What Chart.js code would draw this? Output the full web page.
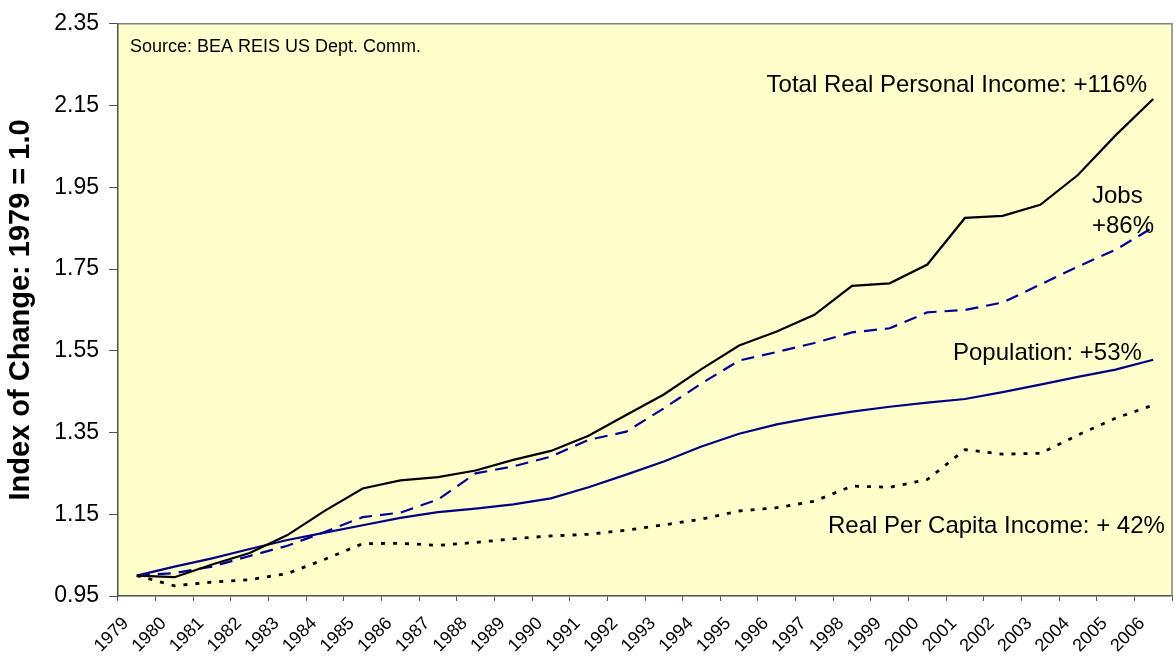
<!DOCTYPE html>
<html>
<head>
<meta charset="utf-8">
<script src="https://cdn.jsdelivr.net/npm/chart.js@4.4.1/dist/chart.umd.min.js"></script>
<style>
  html, body { margin: 0; padding: 0; background: #fff; }
  #wrap { width: 1175px; height: 660px; }
</style>
</head>
<body>
<div id="wrap"><canvas id="chart" width="1175" height="660"></canvas></div>
<script>
const years = ['1979','1980','1981','1982','1983','1984','1985','1986','1987','1988','1989','1990','1991','1992',
  '1993','1994','1995','1996','1997','1998','1999','2000','2001','2002','2003','2004','2005','2006'];

const totalIncome = [1.00, 0.996, 1.027, 1.055, 1.099, 1.159, 1.213, 1.233, 1.241, 1.257, 1.283, 1.305, 1.342, 1.393,
  1.443, 1.505, 1.563, 1.597, 1.638, 1.709, 1.715, 1.761, 1.875, 1.880, 1.907, 1.980, 2.077, 2.166];

const jobs = [1.00, 1.006, 1.022, 1.048, 1.073, 1.107, 1.143, 1.154, 1.186, 1.250, 1.267, 1.291, 1.332, 1.352,
  1.409, 1.470, 1.526, 1.547, 1.569, 1.595, 1.605, 1.644, 1.650, 1.668, 1.712, 1.756, 1.797, 1.852];

const population = [1.00, 1.022, 1.042, 1.065, 1.087, 1.105, 1.123, 1.141, 1.155, 1.164, 1.174, 1.189, 1.216, 1.247,
  1.279, 1.316, 1.347, 1.370, 1.387, 1.401, 1.413, 1.423, 1.432, 1.449, 1.467, 1.486, 1.504, 1.528];

const perCapita = [1.00, 0.975, 0.984, 0.990, 1.005, 1.040, 1.078, 1.079, 1.074, 1.081, 1.090, 1.097, 1.101, 1.111,
  1.124, 1.138, 1.158, 1.166, 1.182, 1.219, 1.216, 1.235, 1.308, 1.297, 1.299, 1.344, 1.385, 1.417];

const FONT = "'Liberation Sans', Arial, sans-serif";

// yellow plot background + frame
const plotBg = {
  id: 'plotBg',
  beforeDraw(chart) {
    const { ctx, chartArea: a } = chart;
    ctx.save();
    ctx.fillStyle = '#FFFFCC';
    ctx.fillRect(a.left, a.top, a.right - a.left, a.bottom - a.top);
    ctx.restore();
  },
  afterDraw(chart) {
    const { ctx, chartArea: a } = chart;
    ctx.save();
    ctx.strokeStyle = '#808080';
    ctx.lineWidth = 1.5;
    ctx.beginPath();
    ctx.moveTo(a.left, a.top);
    ctx.lineTo(a.right, a.top);
    ctx.lineTo(a.right, a.bottom);
    ctx.stroke();
    ctx.restore();
  }
};

// text labels inside the plot
const notes = {
  id: 'notes',
  afterDraw(chart) {
    const { ctx, chartArea: a } = chart;
    ctx.save();
    ctx.fillStyle = '#000';
    ctx.textBaseline = 'alphabetic';
    ctx.font = '18px ' + FONT;
    ctx.textAlign = 'left';
    ctx.fillText('Source: BEA REIS US Dept. Comm.', a.left + 12, a.top + 28);

    ctx.font = '24px ' + FONT;
    ctx.textAlign = 'right';
    ctx.fillText('Total Real Personal Income: +116%', a.left + 1029, a.top + 68);
    ctx.textAlign = 'left';
    ctx.fillText('Jobs', a.left + 974, a.top + 179);
    ctx.fillText('+86%', a.left + 974, a.top + 209);
    ctx.fillText('Population: +53%', a.left + 835, a.top + 336);
    ctx.fillText('Real Per Capita Income: + 42%', a.left + 710, a.top + 509);
    ctx.restore();
  }
};

new Chart(document.getElementById('chart').getContext('2d'), {
  type: 'line',
  data: {
    labels: years,
    datasets: [
      { label: 'Total Real Personal Income', data: totalIncome, borderColor: '#000000', borderWidth: 2.2 },
      { label: 'Jobs', data: jobs, borderColor: '#000099', borderWidth: 2.2, borderDash: [13, 8] },
      { label: 'Population', data: population, borderColor: '#000080', borderWidth: 2.2 },
      { label: 'Real Per Capita Income', data: perCapita, borderColor: '#000000', borderWidth: 2.8, borderDash: [4, 8] }
    ]
  },
  options: {
    responsive: false,
    animation: false,
    layout: { padding: { top: 18, right: 3, left: 0, bottom: 0 } },
    elements: { point: { radius: 0 }, line: { tension: 0, borderCapStyle: 'butt' } },
    plugins: { legend: { display: false }, tooltip: { enabled: false } },
    scales: {
      x: {
        type: 'category',
        offset: true,
        afterFit(scale) { scale.height = 64; scale.paddingRight = 0; scale.paddingLeft = 0; },
        border: { color: '#505050', width: 1.5 },
        grid: { offset: true, drawOnChartArea: false, drawTicks: true, tickLength: 5, color: '#505050' },
        ticks: {
          color: '#000',
          font: { family: FONT, size: 18 },
          maxRotation: 45, minRotation: 45,
          autoSkip: false,
          padding: 12,
          labelOffset: -11
        }
      },
      y: {
        min: 0.95, max: 2.35,
        afterFit(scale) { scale.width = 118; },
        border: { color: '#505050', width: 1.5 },
        grid: { drawOnChartArea: false, drawTicks: true, tickLength: 9, color: '#505050' },
        ticks: {
          stepSize: 0.2,
          color: '#000',
          font: { family: FONT, size: 23 },
          padding: 10,
          callback: v => v.toFixed(2)
        },
        title: {
          display: true,
          text: 'Index of Change: 1979 = 1.0',
          color: '#000',
          font: { family: FONT, size: 29, weight: 'bold' },
          padding: { top: 4, bottom: 0 }
        }
      }
    }
  },
  plugins: [plotBg, notes]
});
</script>
</body>
</html>
